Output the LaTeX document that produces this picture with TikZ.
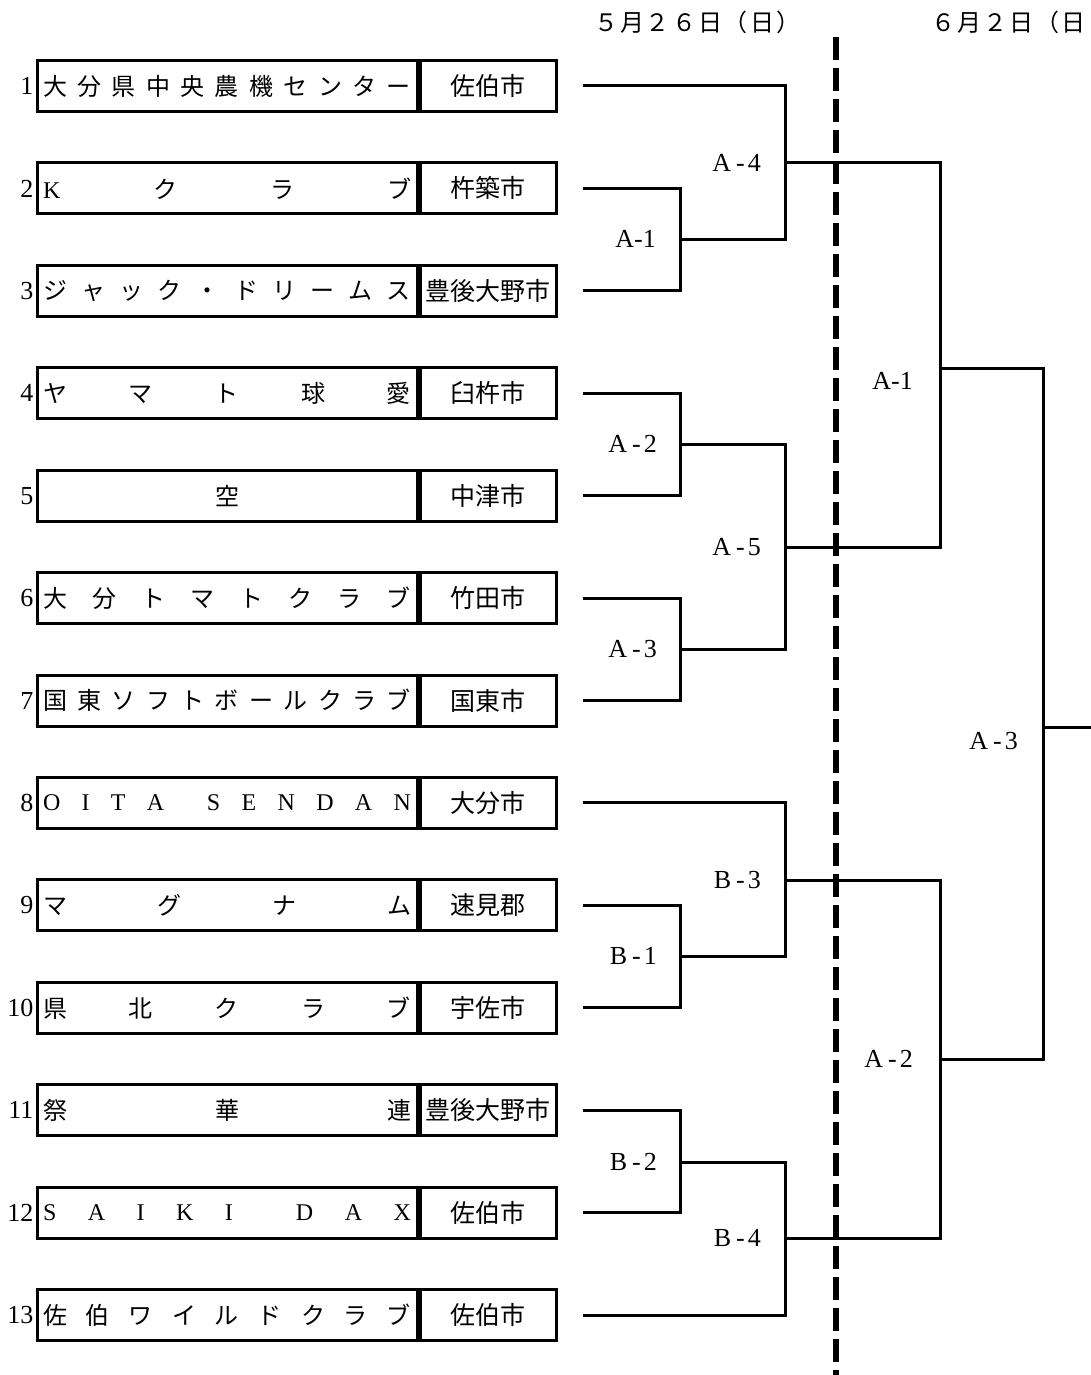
\documentclass[tikz,border=0pt]{standalone}
\usepackage{fontspec}
\setmainfont{Liberation Serif}
\newfontfamily\cjk{Noto Sans CJK JP}
\usepackage{tikz}
\usetikzlibrary{positioning,calc}

% Spread the letters of a name evenly over the name box
\newcommand{\spreadname}[2][368pt]{\makebox[#1][s]{\foreach \c [count=\k] in #2{\ifnum\k>1 \hfill\fi\c}}}
% Set letters at a fixed pitch (date headers)
\newcommand{\pitched}[1]{\foreach \c in #1{\makebox[26pt]{\c}}}
% Match name with its loose dash
\newcommand{\match}[2]{#1\hspace{5pt}-\hspace{3pt}#2}

\begin{document}
\begin{tikzpicture}[x=1pt, y=-1pt,
    every node/.style={inner sep=0pt},
    namebox/.style={draw, line width=3pt, minimum width=380pt, minimum height=51pt},
    citybox/.style={draw, line width=3pt, minimum width=136pt, minimum height=51pt, font=\cjk\fontsize{25}{25}\selectfont},
    numlbl/.style={font=\fontsize{26}{26}\selectfont},
    matchlbl/.style={font=\fontsize{26}{26}\selectfont},
    daylbl/.style={font=\cjk\fontsize{24}{24}\selectfont},
    bracket/.style={line width=3pt},
    daydiv/.style={line width=6pt, dash pattern=on 23pt off 8pt}]

        \useasboundingbox (0,0) rectangle (1091,1375);
        \clip (0,0) rectangle (1091,1375);

        % === Date headers ===
        \node[daylbl] (day1) at (697,22) {\pitched{{５,月,２,６,日,（,日,）}}};
        \node[daylbl, anchor=west] (day2) at (930,22) {\pitched{{６,月,２,日,（,日}}};

        % === Teams: number, name box, city box ===
        \foreach \i/\fnt/\nm/\ct in {
            1/\cjk/{大,分,県,中,央,農,機,セ,ン,タ,ー}/佐伯市,
            2/\cjk/{\rmfamily K,ク,ラ,ブ}/杵築市,
            3/\cjk/{ジ,ャ,ッ,ク,・,ド,リ,ー,ム,ス}/豊後大野市,
            4/\cjk/{ヤ,マ,ト,球,愛}/臼杵市,
            5/\cjk/{\hfil 空\hfil}/中津市,
            6/\cjk/{大,分,ト,マ,ト,ク,ラ,ブ}/竹田市,
            7/\cjk/{国,東,ソ,フ,ト,ボ,ー,ル,ク,ラ,ブ}/国東市,
            8/\rmfamily/{O,I,T,A,{},S,E,N,D,A,N}/大分市,
            9/\cjk/{マ,グ,ナ,ム}/速見郡,
            10/\cjk/{県,北,ク,ラ,ブ}/宇佐市,
            11/\cjk/{祭,華,連}/豊後大野市,
            12/\rmfamily/{S,A,I,K,I,{},D,A,X}/佐伯市,
            13/\cjk/{佐,伯,ワ,イ,ル,ド,ク,ラ,ブ}/佐伯市}
        {
            \node[namebox, font=\fnt\fontsize{24}{24}\selectfont] (n\i) at (227,{86+(\i-1)*102.42}) {\spreadname{\nm}};
            \node[citybox, right=0pt of n\i] (c\i) {\ct};
            \node[numlbl, left=2pt of n\i] (no\i) {\i};
            \coordinate (s\i) at ($(c\i.east)+(25,0)$);
        }

        % === Match points ===
        \coordinate (a1) at (680,239);
        \coordinate (a2) at (680,444);
        \coordinate (a3) at (680,649);
        \coordinate (a4) at (785,163);
        \coordinate (a5) at (785,547);
        \coordinate (b1) at (680,956);
        \coordinate (b2) at (680,1162);
        \coordinate (b3) at (785,880);
        \coordinate (b4) at (785,1238);
        \coordinate (ra1) at (940,368);
        \coordinate (ra2) at (940,1059);
        \coordinate (fin) at (1043,727);
        \coordinate (out) at (1095,727);

        % === Bracket lines ===
        \draw[bracket] (s2) -| (a1) |- (s3);
        \draw[bracket] (s1) -| (a4) |- (a1);
        \draw[bracket] (s4) -| (a2) |- (s5);
        \draw[bracket] (s6) -| (a3) |- (s7);
        \draw[bracket] (a2) -| (a5) |- (a3);
        \draw[bracket] (a4) -| (ra1) |- (a5);
        \draw[bracket] (s9) -| (b1) |- (s10);
        \draw[bracket] (s8) -| (b3) |- (b1);
        \draw[bracket] (s11) -| (b2) |- (s12);
        \draw[bracket] (b2) -| (b4) |- (s13);
        \draw[bracket] (b3) -| (ra2) |- (b4);
        \draw[bracket] (ra1) -| (fin) |- (ra2);
        \draw[bracket] (fin) -- (out);

        % === Match labels ===
        \node[matchlbl, left=24pt of a1] (a1lbl) {A-1};
        \node[matchlbl, left=23pt of a2] (a2lbl) {\match{A}{2}};
        \node[matchlbl, left=23pt of a3] (a3lbl) {\match{A}{3}};
        \node[matchlbl, left=24pt of a4] (a4lbl) {\match{A}{4}};
        \node[matchlbl, left=24pt of a5] (a5lbl) {\match{A}{5}};
        \node[matchlbl, left=23pt of b1] (b1lbl) {\match{B}{1}};
        \node[matchlbl, left=23pt of b2] (b2lbl) {\match{B}{2}};
        \node[matchlbl, left=24pt of b3] (b3lbl) {\match{B}{3}};
        \node[matchlbl, left=24pt of b4] (b4lbl) {\match{B}{4}};
        \node[matchlbl, left=27pt of ra1, yshift=-13pt] (ra1lbl) {A-1};
        \node[matchlbl, left=27pt of ra2] (ra2lbl) {\match{A}{2}};
        \node[matchlbl, left=25pt of fin, yshift=-14pt] (finlbl) {\match{A}{3}};

        % === Day divider ===
        \coordinate (divtop) at (836,37);
        \coordinate (divbot) at (836,1380);
        \draw[daydiv] (divtop) -- (divbot);

\end{tikzpicture}
\end{document}
